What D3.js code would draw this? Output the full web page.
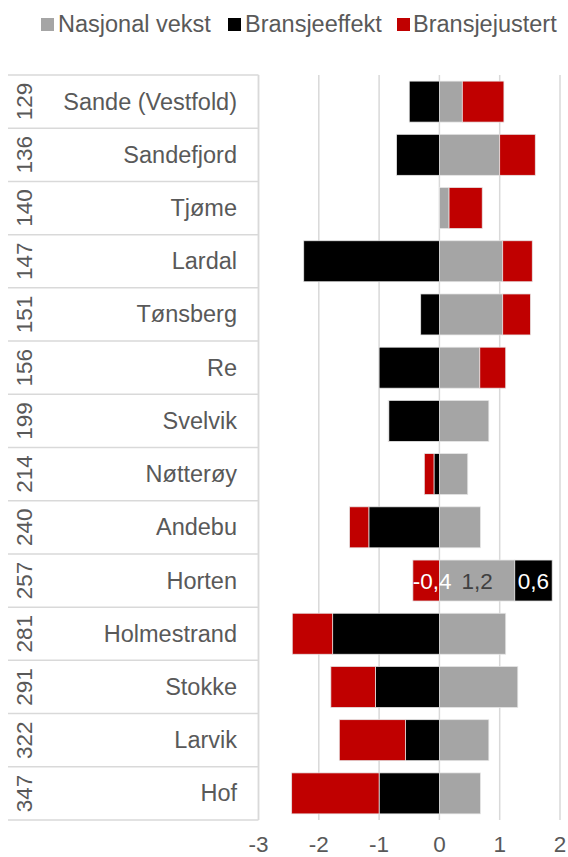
<!DOCTYPE html>
<html><head><meta charset="utf-8">
<script src="https://cdn.jsdelivr.net/npm/d3@7"></script>
<style>body{margin:0;background:#fff}svg{display:block}text{font-family:"Liberation Sans",Arial,sans-serif}</style>
</head><body>
<svg id="c" width="568" height="857"></svg>
<script>
const ranks = [129,136,140,147,151,156,199,214,240,257,281,291,322,347];
const names = ["Sande (Vestfold)","Sandefjord","Tjøme","Lardal","Tønsberg","Re","Svelvik","Nøtterøy","Andebu","Horten","Holmestrand","Stokke","Larvik","Hof"];
const nasjonal = [0.38,1.0,0.16,1.05,1.05,0.67,0.82,0.47,0.68,1.25,1.1,1.3,0.82,0.68];
const bransjeeffekt = [-0.5,-0.71,0,-2.25,-0.31,-1.0,-0.84,-0.09,-1.17,0.62,-1.77,-1.06,-0.56,-1.0];
const bransjejustert = [0.69,0.59,0.55,0.49,0.46,0.43,-0.01,-0.16,-0.32,-0.44,-0.67,-0.74,-1.1,-1.45];
const seriesNames = ["Nasjonal vekst","Bransjeeffekt","Bransjejustert"];
const colors = ["#a5a5a5","#000000","#c00000"];
const xTicks = [-3,-2,-1,0,1,2];
const hortenLabels = ["1,2","0,6","-0,4"];

const svg = d3.select("#c");
const txt = "#595959";
const rows = names.map((n,i)=>({name:n, rank:ranks[i], s0:nasjonal[i], s1:bransjeeffekt[i], s2:bransjejustert[i]}));

const x = d3.scaleLinear().domain([-3,2]).range([258.5,560]);
const y = d3.scaleBand().domain(names).range([75,820]).paddingInner(0.23).paddingOuter(0.115);
const rowY = d3.scaleBand().domain(names).range([75,820]);

// gridlines
svg.append("g").selectAll("line").data(xTicks).join("line")
  .attr("x1",d=>x(d)).attr("x2",d=>x(d)).attr("y1",75).attr("y2",820)
  .attr("stroke","#d9d9d9").attr("stroke-width",1.5);

// table
const tb = svg.append("g");
tb.selectAll("line.h").data(d3.range(names.length+1)).join("line")
  .attr("x1",8).attr("x2",258.5)
  .attr("y1",i=>i<names.length?rowY(names[i]):820).attr("y2",i=>i<names.length?rowY(names[i]):820)
  .attr("stroke","#d9d9d9").attr("stroke-width",1.5);
tb.append("line").attr("x1",258.5).attr("x2",258.5).attr("y1",75).attr("y2",820).attr("stroke","#d9d9d9").attr("stroke-width",1.5);
tb.selectAll("text.name").data(rows).join("text").attr("class","name")
  .attr("x",237).attr("y",d=>rowY(d.name)+rowY.bandwidth()/2+8)
  .attr("text-anchor","end").attr("font-size",23.5).attr("fill",txt).text(d=>d.name);
tb.selectAll("text.rank").data(rows).join("text").attr("class","rank")
  .attr("transform",d=>`translate(31.5,${rowY(d.name)+rowY.bandwidth()/2}) rotate(-90)`)
  .attr("text-anchor","middle").attr("font-size",22.5).attr("fill",txt).text(d=>d.rank);

// bars
const stack = d3.stack().keys(["s0","s1","s2"]).offset(d3.stackOffsetDiverging);
const stacked = stack(rows);
const g = svg.append("g");
stacked.forEach((ser,si)=>{
  g.append("g").selectAll("rect").data(ser.filter(d=>d[1]!==d[0])).join("rect")
    .attr("x",d=>x(Math.min(d[0],d[1]))).attr("width",d=>Math.abs(x(d[1])-x(d[0])))
    .attr("y",d=>y(d.data.name)).attr("height",y.bandwidth())
    .attr("fill",colors[si]).attr("stroke","#e6e6e6").attr("stroke-width",0.75);
});

// Horten labels
const hi = names.indexOf("Horten");
const lblColors = ["#404040","#ffffff","#ffffff"];
stacked.forEach((ser,si)=>{
  const d = ser[hi];
  const t = g.append("text").attr("y",y("Horten")+y.bandwidth()/2+8)
    .attr("font-size",22.5).attr("fill",lblColors[si]).text(hortenLabels[si]);
  const w = t.node().getComputedTextLength();
  const x0 = x(Math.min(d[0],d[1])), x1 = x(Math.max(d[0],d[1]));
  if (w > x1 - x0) t.attr("x", x0).attr("text-anchor","start");
  else t.attr("x",(x0+x1)/2).attr("text-anchor","middle");
});

// x axis labels
svg.append("g").selectAll("text").data(xTicks).join("text")
  .attr("x",d=>x(d)).attr("y",852).attr("text-anchor","middle")
  .attr("font-size",22.5).attr("fill",txt).text(d=>d);

// legend
const leg = [{x:41,tx:58},{x:228,tx:245},{x:397,tx:413}];
const lg = svg.append("g");
seriesNames.forEach((n,i)=>{
  lg.append("rect").attr("x",leg[i].x).attr("y",18).attr("width",13).attr("height",13).attr("fill",colors[i]);
  lg.append("text").attr("x",leg[i].tx).attr("y",32).attr("font-size",23.5).attr("fill",txt).text(n);
});
</script>
</body></html>
